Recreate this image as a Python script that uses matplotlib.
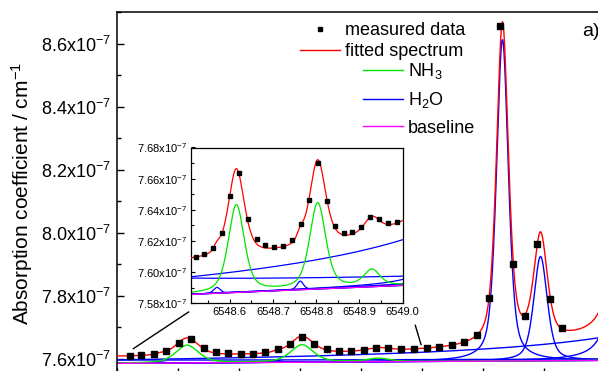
import numpy as np
import matplotlib
matplotlib.use("Agg")
import matplotlib.pyplot as plt
from matplotlib.ticker import MultipleLocator, FuncFormatter
from matplotlib.lines import Line2D

plt.rcParams['font.family'] = ['Liberation Sans', 'DejaVu Sans']
plt.rcParams['mathtext.fontset'] = 'custom'
plt.rcParams['mathtext.rm'] = 'Liberation Sans'
plt.rcParams['mathtext.it'] = 'Liberation Sans:italic'
plt.rcParams['mathtext.bf'] = 'Liberation Sans:bold'

# ---- measured data (wavenumber / cm-1, absorption / 1e-7 cm-1) ----
wavenumber = [6548.521, 6548.540, 6548.561, 6548.581, 6548.601, 6548.621, 6548.642,
              6548.662, 6548.682, 6548.703, 6548.723, 6548.743, 6548.764, 6548.784,
              6548.804, 6548.824, 6548.844, 6548.864, 6548.884, 6548.905, 6548.925,
              6548.945, 6548.966, 6548.987, 6549.009, 6549.028, 6549.049, 6549.069,
              6549.090, 6549.110, 6549.129, 6549.150, 6549.170, 6549.190, 6549.211,
              6549.231]
absorption = [7.6100, 7.6118, 7.6153, 7.6249, 7.6487, 7.6638, 7.6343, 7.6215, 7.6174,
              7.6163, 7.6168, 7.6208, 7.6311, 7.6465, 7.6702, 7.6455, 7.6296, 7.6253,
              7.6258, 7.6288, 7.6354, 7.6343, 7.6315, 7.6324, 7.6333, 7.6375, 7.6438,
              7.6524, 7.6746, 7.7930, 8.6556, 7.9022, 7.7349, 7.9657, 7.7911, 7.6978]
error_bar = 0.0007

# ---- fitted line parameters ----
baseline_start = 7.5856      # at 6548.5 cm-1
baseline_slope = 0.0118      # per cm-1

nh3_center = [6548.615, 6548.8035, 6548.929]
nh3_amp = [0.056, 0.055, 0.0105]
nh3_hwhm = [0.022, 0.022, 0.022]
nh3_eta = [0.5, 0.5, 0.5]

h2o_center = [6548.570, 6548.763, 6549.1325, 6549.195, 6549.80, 6547.03, 6549.328]
h2o_amp = [0.0038, 0.0055, 1.020, 0.331, 7.52, 2.30, 2.86]
h2o_hwhm = [0.009, 0.009, 0.0115, 0.013, 0.05, 0.10, 0.006]
h2o_eta = [0.4, 0.4, 0.5, 0.5, 1.0, 1.0, 1.0]

main_xlim = (6548.5, 6549.4)
main_ylim = (7.55, 8.7)
inset_xlim = (6548.51, 6549.0)
inset_ylim = (7.58, 7.68)


def pvoigt(x, c, a, w, eta):
    d2 = ((x - c) / w) ** 2
    return a * (eta / (1 + d2) + (1 - eta) * np.exp(-np.log(2) * d2))


x = np.linspace(main_xlim[0], main_xlim[1], 4000)
base = baseline_start + baseline_slope * (x - main_xlim[0])
nh3_sum = sum(pvoigt(x, c, a, w, e) for c, a, w, e in zip(nh3_center, nh3_amp, nh3_hwhm, nh3_eta))
h2o_each = [pvoigt(x, c, a, w, e) for c, a, w, e in zip(h2o_center, h2o_amp, h2o_hwhm, h2o_eta)]
fit = base + nh3_sum + sum(h2o_each)

RED, GREEN, BLUE, MAG = '#ff0000', '#00e600', '#0000ff', '#ff00ff'

W, H = 598, 371
fig = plt.figure(figsize=(W / 100, H / 100), dpi=100)


def px_rect(l, t, r, b):
    return [l / W, 1 - b / H, (r - l) / W, (b - t) / H]


def draw_curves(a, lw):
    for h in h2o_each:
        a.plot(x, base + h, color=BLUE, lw=lw, zorder=2)
    a.plot(x, base + nh3_sum, color=GREEN, lw=lw, zorder=2.1)
    a.plot(x, base, color=MAG, lw=lw, zorder=2.2)
    a.plot(x, fit, color=RED, lw=lw, zorder=3)


# ---------------- main axes ----------------
ax = fig.add_axes(px_rect(117, 12.3, 117 + 0.9 * 609.4, 12.3 + 1.15 * 315))
draw_curves(ax, 1.0)
ax.plot(wavenumber, absorption, ls='none', marker='s', ms=5, color='k', zorder=4)
ax.set_xlim(*main_xlim)
ax.set_ylim(*main_ylim)
for s in ax.spines.values():
    s.set_linewidth(1.1)
ax.yaxis.set_major_locator(MultipleLocator(0.2))
ax.yaxis.set_minor_locator(MultipleLocator(0.1))
ax.xaxis.set_major_locator(MultipleLocator(0.1))
ax.yaxis.set_major_formatter(FuncFormatter(lambda v, p: f"{v:.1f}x10$^{{-7}}$"))
ax.tick_params(which='both', direction='in', width=1.0)
ax.tick_params(which='major', length=5, labelsize=13, pad=4)
ax.tick_params(which='minor', length=3)
ax.tick_params(axis='x', labelbottom=False)
ax.set_ylabel("Absorption coefficient / cm$^{-1}$", fontsize=15, labelpad=5)

# connector lines from main plot to inset
ax.plot([6548.527, 6548.6175], [7.6324, 7.7486], color='k', lw=1.0, clip_on=False, zorder=5)
ax.plot([6548.9989, 6548.9895], [7.6451, 7.7063], color='k', lw=1.0, clip_on=False, zorder=5)

# legends
h_data = Line2D([], [], ls='none', marker='s', ms=3.2, color='k')
h_fit = Line2D([], [], color=RED, lw=1.0)
leg1 = ax.legend([h_data, h_fit], ["measured data", "fitted spectrum"],
                 loc='upper left', bbox_to_anchor=(300 / W, 1 - 22 / H),
                 bbox_transform=fig.transFigure, frameon=False, fontsize=13,
                 handlelength=2.2, handletextpad=0.3, borderpad=0, borderaxespad=0,
                 labelspacing=0.24, numpoints=1)
ax.add_artist(leg1)
h_nh3 = Line2D([], [], color=GREEN, lw=1.0)
h_h2o = Line2D([], [], color=BLUE, lw=1.0)
h_base = Line2D([], [], color=MAG, lw=1.0)
leg2 = ax.legend([h_nh3, h_h2o, h_base], ["NH$_3$", "H$_2$O", "baseline"],
                 loc='upper left', bbox_to_anchor=(363 / W, 1 - 61 / H),
                 bbox_transform=fig.transFigure, frameon=False, fontsize=13,
                 handlelength=2.2, handletextpad=0.3, borderpad=0, borderaxespad=0,
                 labelspacing=0.52)

fig.text(582 / W, 1 - 31 / H, "a)", fontsize=14, ha='left', va='center')

# ---------------- inset ----------------
axi = fig.add_axes(px_rect(191, 147.5, 402.5, 303.3))
axi.set_zorder(6)
axi.set_facecolor('white')
draw_curves(axi, 0.9)
axi.errorbar(wavenumber, absorption, yerr=error_bar, fmt='s', ms=2.2, color='k',
             elinewidth=1.8, capsize=0, zorder=4)
axi.set_xlim(*inset_xlim)
axi.set_ylim(*inset_ylim)
for s in axi.spines.values():
    s.set_linewidth(0.9)
axi.xaxis.set_major_locator(MultipleLocator(0.1))
axi.xaxis.set_minor_locator(MultipleLocator(0.05))
axi.yaxis.set_major_locator(MultipleLocator(0.02))
axi.yaxis.set_minor_locator(MultipleLocator(0.01))
axi.xaxis.set_major_formatter(FuncFormatter(lambda v, p: f"{v:.1f}"))
axi.yaxis.set_major_formatter(FuncFormatter(lambda v, p: f"{v:.2f}x10$^{{-7}}$"))
axi.tick_params(which='both', direction='in', width=0.8)
axi.tick_params(which='major', length=3, labelsize=8, pad=3)
axi.tick_params(which='minor', length=2)

fig.savefig("out.png", dpi=100)
